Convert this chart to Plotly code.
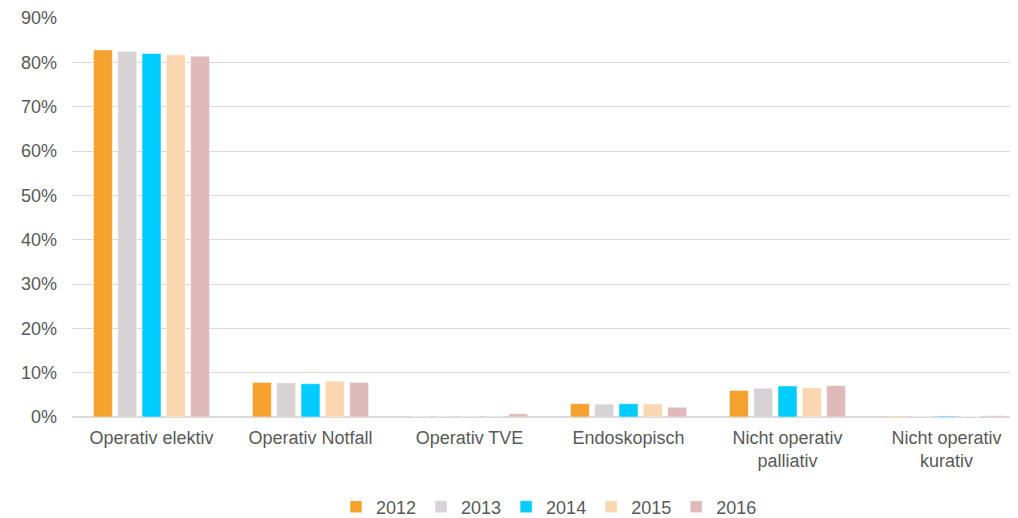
import plotly.graph_objects as go

categories = [
    "Operativ elektiv",
    "Operativ Notfall",
    "Operativ TVE",
    "Endoskopisch",
    "Nicht operativ<br>palliativ",
    "Nicht operativ<br>kurativ",
]
years = ["2012", "2013", "2014", "2015", "2016"]

# share per category, one list per year (fractions)
v2012 = [0.828, 0.078, 0.000, 0.030, 0.060, 0.0015]
v2013 = [0.825, 0.077, 0.000, 0.029, 0.065, 0.0005]
v2014 = [0.820, 0.075, 0.000, 0.030, 0.070, 0.0020]
v2015 = [0.817, 0.081, 0.000, 0.0295, 0.066, 0.0010]
v2016 = [0.814, 0.078, 0.0075, 0.022, 0.071, 0.0030]

colors = ["#F4A12E", "#D6D2D5", "#00CCFF", "#FAD7B0", "#DFBABB"]

fig = go.Figure()
for year, vals, col in zip(years, [v2012, v2013, v2014, v2015, v2016], colors):
    fig.add_trace(go.Bar(
        x=categories, y=vals, name=year,
        marker=dict(color=col, line=dict(color="white", width=0.5)),
    ))

font_col = "#595959"
# the page body keeps an 8px margin; the plot runs past the right edge like the original
fig.update_layout(
    barmode="group",
    bargap=0.236,
    bargroupgap=0.22,
    width=1018, height=518,
    margin=dict(l=64, r=0, t=10, b=109),
    paper_bgcolor="white", plot_bgcolor="white",
    font=dict(family="Liberation Sans, Arial, sans-serif", size=18, color=font_col),
    yaxis=dict(
        range=[0, 0.9], dtick=0.1, tickformat=".0%",
        showgrid=True, gridcolor="#D9D9D9", gridwidth=1,
        zeroline=True, zerolinecolor="#D9D9D9", zerolinewidth=1.5,
        ticks="", ticklabelstandoff=14,
    ),
    xaxis=dict(showline=False, ticks="", ticklabelstandoff=8),
    legend=dict(
        orientation="h", x=0.5, xanchor="center",
        yref="container", y=0.0367, yanchor="middle",
        itemwidth=30, traceorder="normal",
    ),
    showlegend=True,
)

fig.write_html("out.html")
